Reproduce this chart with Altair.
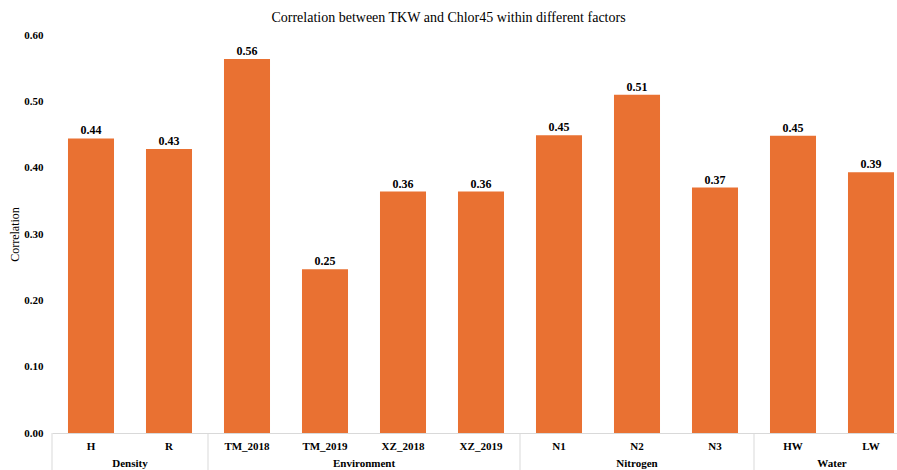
import altair as alt
import pandas as pd

# Categories, their factor groups and the correlation of each
categories = ["H", "R", "TM_2018", "TM_2019", "XZ_2018", "XZ_2019",
              "N1", "N2", "N3", "HW", "LW"]
groups = ["Density", "Density",
          "Environment", "Environment", "Environment", "Environment",
          "Nitrogen", "Nitrogen", "Nitrogen",
          "Water", "Water"]
correlation = [0.444, 0.428, 0.564, 0.247, 0.364, 0.364,
               0.449, 0.510, 0.370, 0.448, 0.393]
y_ticks = [0.0, 0.1, 0.2, 0.3, 0.4, 0.5, 0.6]

SERIF = "Liberation Serif"
ORANGE = "#E97132"
LINE = "#d9d9d9"
W, H = 845, 398

bars_df = pd.DataFrame({"category": categories, "group": groups, "corr": correlation})

# First category of every group -> separator line; group label sits at the group's middle
group_order = list(dict.fromkeys(groups))
first_idx = {g: groups.index(g) for g in group_order}
counts = {g: groups.count(g) for g in group_order}
sep_df = pd.DataFrame({"category": [categories[first_idx[g]] for g in group_order]})
even_rows, odd_rows = [], []
for g in group_order:
    n = counts[g]
    if n % 2 == 0:
        even_rows.append({"category": categories[first_idx[g] + n // 2], "group": g})
    else:
        odd_rows.append({"category": categories[first_idx[g] + n // 2], "group": g})
even_df = pd.DataFrame(even_rows)
odd_df = pd.DataFrame(odd_rows)

x_axis = alt.Axis(title=None, labelAngle=0, labelFont=SERIF, labelFontSize=11,
                  labelFontWeight="bold", labelColor="black", labelPadding=7,
                  ticks=False, domainColor=LINE, domainWidth=1)
x_scale = alt.Scale(domain=categories, range=[0, 858], paddingInner=0, paddingOuter=0)

y_enc = alt.Y("corr:Q",
              scale=alt.Scale(domain=[0, 0.6], nice=False),
              axis=alt.Axis(title="Correlation", values=y_ticks, format=".2f",
                            grid=False, domain=False, ticks=False,
                            labelFont=SERIF, labelFontSize=11, labelFontWeight="bold",
                            labelColor="black", labelPadding=9,
                            titleFont=SERIF, titleFontSize=12, titleFontWeight="normal",
                            titleColor="black", titlePadding=2))

bars = alt.Chart(bars_df).mark_bar(color=ORANGE, width=alt.RelativeBandSize(0.59)).encode(
    x=alt.X("category:N", sort=categories, scale=x_scale, axis=x_axis),
    y=y_enc,
)

values = alt.Chart(bars_df).mark_text(
    font=SERIF, fontSize=12, fontWeight="bold", color="black",
    baseline="alphabetic", dy=-4,
).encode(
    x=alt.X("category:N", sort=categories, axis=x_axis),
    y=alt.Y("corr:Q"),
    text=alt.Text("corr:Q", format=".2f"),
)

separators = alt.Chart(sep_df).mark_rule(color=LINE, strokeWidth=1).encode(
    x=alt.X("category:N", sort=categories, bandPosition=0, axis=x_axis),
    y=alt.value(H),
    y2=alt.value(H + 37),
)

group_style = dict(font=SERIF, fontSize=11, fontWeight="bold", color="black", baseline="middle")

groups_even = alt.Chart(even_df).mark_text(**group_style).encode(
    x=alt.X("category:N", sort=categories, bandPosition=0, axis=x_axis),
    y=alt.value(H + 31),
    text="group:N",
)
groups_odd = alt.Chart(odd_df).mark_text(**group_style).encode(
    x=alt.X("category:N", sort=categories, bandPosition=0.5, axis=x_axis),
    y=alt.value(H + 31),
    text="group:N",
)

chart = alt.layer(bars, values, separators, groups_even, groups_odd).properties(
    width=W,
    height=H,
    title=alt.TitleParams(
        "Correlation between TKW and Chlor45 within different factors",
        font=SERIF, fontSize=14, fontWeight="normal", color="black",
        anchor="middle", dx=-26, offset=4,
    ),
    autosize=alt.AutoSizeParams(type="none"),
    padding={"left": 52, "top": 35, "right": 0, "bottom": 37},
).configure_view(stroke=None)

chart.save("out.html", embed_options={"renderer": "svg", "actions": False})
